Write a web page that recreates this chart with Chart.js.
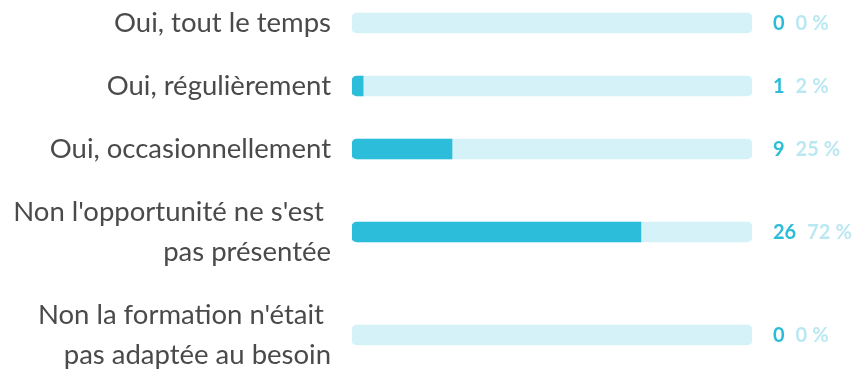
<!DOCTYPE html>
<html lang="fr">
  <head>
    <meta charset="UTF-8" />
    <meta name="viewport" content="width=device-width, initial-scale=1.0" />
    <title>Résultats</title>
    <script src="https://cdn.jsdelivr.net/npm/chart.js@4.4.0/dist/chart.umd.min.js"></script>
    <style>
      body { margin: 0; background: #fff; }
      #rows { padding-top: 3px; width: 860px; }
      .row { margin-bottom: 23px; }
      .row canvas { display: block; }
    </style>
  </head>
  <body>
    <!-- une ligne = un petit graphique -->
    <div id="rows"></div>

    <script>
      // réponses (libellés sur plusieurs lignes si besoin)
      const categories = [
        ['Oui, tout le temps'],
        ['Oui, régulièrement'],
        ['Oui, occasionnellement'],
        ["Non l'opportunité ne s'est ", 'pas présentée'],
        ["Non la formation n'était ", 'pas adaptée au besoin'],
      ];
      const counts = [0, 1, 9, 26, 0];
      const totalAnswers = 36;

      const barColor = '#2bbdd9';
      const trackColor = '#d5f2f8';

      Chart.defaults.font.family = 'Lato, sans-serif';

      // nombre + pourcentage à droite de la barre
      const valueLabels = {
        id: 'valueLabels',
        afterDatasetsDraw(chart) {
          const ctx = chart.ctx;
          const meta = chart.getDatasetMeta(1);
          const count = chart.data.datasets[1].data[0];
          const pct = String(Math.floor((count / totalAnswers) * 100));
          const y = meta.data[0].y + 1;
          let x = chart.chartArea.right + 21;
          ctx.save();
          ctx.textBaseline = 'middle';
          ctx.textAlign = 'left';
          ctx.font = 'bold 20px Lato, sans-serif';
          ctx.fillStyle = '#2bbcd8';
          ctx.fillText(String(count), x, y);
          x += ctx.measureText(String(count)).width + 11;
          ctx.fillStyle = '#bae8f2';
          ctx.fillText(pct, x, y);
          x += ctx.measureText(pct).width + 5;
          ctx.fillText('%', x, y);
          ctx.restore();
        },
      };

      const container = document.getElementById('rows');

      categories.forEach((label, i) => {
        const row = document.createElement('div');
        row.className = 'row';
        const canvas = document.createElement('canvas');
        canvas.width = 860;
        canvas.height = 40 * label.length;
        row.appendChild(canvas);
        container.appendChild(row);

        new Chart(canvas, {
          type: 'bar',
          data: {
            labels: [label],
            datasets: [
              {
                // fond de la barre (total)
                data: [totalAnswers],
                backgroundColor: trackColor,
                borderRadius: 5,
                borderSkipped: false,
                barThickness: 20,
                grouped: false,
                order: 2,
              },
              {
                data: [counts[i]],
                backgroundColor: counts[i] > 0 ? barColor : 'transparent',
                borderRadius: { topLeft: 5, bottomLeft: 5, topRight: 0, bottomRight: 0 },
                borderSkipped: false,
                barThickness: 20,
                grouped: false,
                order: 1,
              },
            ],
          },
          options: {
            indexAxis: 'y',
            responsive: false,
            animation: false,
            layout: { padding: { left: 0, right: 108, top: 0, bottom: 0 } },
            plugins: {
              legend: { display: false },
              tooltip: { enabled: false },
            },
            scales: {
              x: {
                min: 0,
                max: totalAnswers,
                display: false,
              },
              y: {
                grid: { display: false },
                border: { display: false },
                afterFit: (scale) => {
                  scale.width = 352;
                  // le libellé occupe toute la hauteur de la ligne
                  scale.paddingTop = 0;
                  scale.paddingBottom = 0;
                },
                ticks: {
                  padding: 13,
                  color: '#4a4a4a',
                  font: { size: 27.5, lineHeight: 40 / 27.5 },
                },
              },
            },
          },
          plugins: [valueLabels],
        });
      });
    </script>
  </body>
</html>
